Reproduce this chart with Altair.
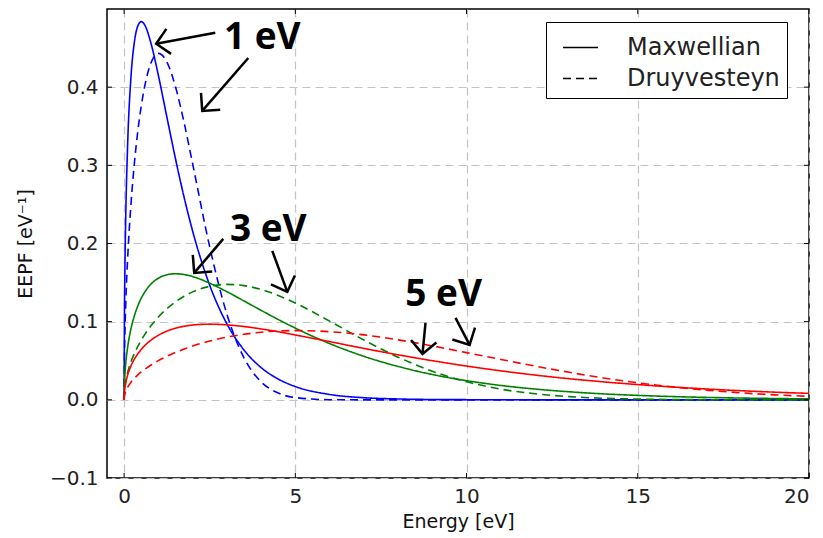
import math
import altair as alt
import pandas as pd

# ---------------- data ----------------
energy = [0, 0.01, 0.02, 0.05, 0.1, 0.2, 0.3, 0.4, 0.5, 0.6,
          0.8, 1.0, 1.25, 1.5, 1.75, 2.0, 2.5, 3.0, 3.5, 4.0,
          4.5, 5, 6, 7, 8, 9, 10, 11, 12, 13,
          14, 15, 16, 17, 18, 19, 20]

maxwell_1 = [0, .1117, .1564, .2400, .3229, .4131, .4578, .4784, .4839, .4797,
             .4535, .4151, .3615, .3084, .2594, .2160, .1465, .0973, .0638, .0413,
             .0266, .0170, .0069, .0027, .0011, .0004, .0002, .0001, 0, 0,
             0, 0, 0, 0, 0, 0, 0]
maxwell_3 = [0, .0216, .0305, .0478, .0664, .0909, .1076, .1202, .1300, .1377,
             .1488, .1556, .1600, .1613, .1603, .1577, .1492, .1384, .1265, .1145,
             .1028, .0917, .0720, .0557, .0427, .0324, .0245, .0184, .0138, .0103,
             .0076, .0057, .0042, .0031, .0023, .0017, .0012]
maxwell_5 = [0, .0101, .0142, .0223, .0313, .0434, .0521, .0589, .0646, .0693,
             .0769, .0826, .0879, .0916, .0941, .0957, .0968, .0959, .0938, .0907,
             .0871, .0830, .0745, .0658, .0576, .0501, .0432, .0371, .0317, .0270,
             .0230, .0195, .0165, .0139, .0117, .0098, .0083]
druy_1 = [0, .0565, .0799, .1263, .1782, .2503, .3028, .3438, .3760, .4010,
          .4327, .4432, .4321, .4005, .3550, .3022, .1955, .1097, .0538, .0231,
          .0087, .0029, .0002, 0, 0, 0, 0, 0, 0, 0,
          0, 0, 0, 0, 0, 0, 0]
druy_3 = [0, .0109, .0154, .0243, .0344, .0486, .0594, .0685, .0764, .0834,
          .0956, .1059, .1166, .1253, .1325, .1381, .1452, .1477, .1461, .1412,
          .1335, .1238, .1007, .0766, .0546, .0366, .0231, .0137, .0077, .0041,
          .0020, .0010, .0004, .0002, .0001, 0, 0]
druy_5 = [0, .0051, .0071, .0113, .0160, .0226, .0277, .0319, .0357, .0390,
          .0449, .0501, .0557, .0606, .0649, .0688, .0752, .0802, .0839, .0865,
          .0881, .0886, .0872, .0831, .0767, .0690, .0604, .0517, .0431, .0352,
          .0280, .0218, .0166, .0124, .0090, .0064, .0045]

te_labels = ["1 eV", "3 eV", "5 eV"]
te_colors = ["#0000ff", "#008000", "#ff0000"]
dist_labels = ["Maxwellian", "Druyvesteyn"]

x_ticks = [0, 5, 10, 15, 20]
y_ticks = [-0.1, 0.0, 0.1, 0.2, 0.3, 0.4]

# annotation texts (centre x, baseline y)
label_text = ["1 eV", "3 eV", "5 eV"]
label_x = [4.035, 4.21, 9.33]
label_y = [0.4488, 0.2033, 0.1202]

# annotation arrows (tail -> tip)
arrow_tail_x = [2.661, 3.626, 2.895, 4.327, 8.801, 9.678]
arrow_tail_y = [0.4697, 0.4373, 0.2059, 0.1905, 0.0985, 0.1049]
arrow_tip_x = [0.936, 2.281, 2.047, 4.766, 8.713, 10.088]
arrow_tip_y = [0.4556, 0.3696, 0.1624, 0.1381, 0.0588, 0.0703]

# ---------------- layout ----------------
W, H = 702, 469
XMIN, XMAX = -0.5, 20
YMIN, YMAX = -0.1, 0.5
PXX = W / (XMAX - XMIN)
PXY = H / (YMAX - YMIN)

rows = []
for te, mv, dv in zip(te_labels, [maxwell_1, maxwell_3, maxwell_5], [druy_1, druy_3, druy_5]):
    for dist, vals in zip(dist_labels, [mv, dv]):
        for e, v in zip(energy, vals):
            rows.append({"E": e, "f": v, "Te": te, "dist": dist, "series": te + dist})
curves = pd.DataFrame(rows)

arrows = pd.DataFrame({"E": arrow_tail_x, "f": arrow_tail_y,
                       "E2": arrow_tip_x, "f2": arrow_tip_y})
heads = pd.DataFrame({
    "E": arrow_tip_x, "f": arrow_tip_y,
    "ang": [(math.degrees(math.atan2((tx - sx) * PXX, (ty - sy) * PXY)) + 360) % 360
            for sx, sy, tx, ty in zip(arrow_tail_x, arrow_tail_y, arrow_tip_x, arrow_tip_y)],
})
labels = pd.DataFrame({"E": label_x, "f": label_y, "t": label_text})
xt = pd.DataFrame({"E": x_ticks})
yt = pd.DataFrame({"f": y_ticks})

xscale = alt.Scale(domain=[XMIN, XMAX], nice=False, zero=False)
yscale = alt.Scale(domain=[YMIN, YMAX], nice=False, zero=False)
xaxis = alt.Axis(values=x_ticks, title="Energy [eV]", labelPadding=8, titlePadding=6)
yaxis = alt.Axis(values=y_ticks, format=".1f", title="EEPF [eV⁻¹]",
                 labelPadding=9, titlePadding=14)


def X(field="E"):
    return alt.X(f"{field}:Q", scale=xscale, axis=xaxis)


def Y(field="f"):
    return alt.Y(f"{field}:Q", scale=yscale, axis=yaxis)


lines = alt.Chart(curves).mark_line(strokeWidth=1.6, interpolate="monotone").encode(
    x=X(), y=Y(),
    color=alt.Color("Te:N", scale=alt.Scale(domain=te_labels, range=te_colors), legend=None),
    strokeDash=alt.StrokeDash(
        "dist:N",
        scale=alt.Scale(domain=dist_labels, range=[[1, 0], [8, 5]]),
        legend=alt.Legend(
            title=None, orient="none", legendX=439, legendY=13,
            symbolType="stroke", symbolStrokeColor="black", symbolStrokeWidth=1.5,
            symbolSize=1225, symbolOffset=9,
            labelFont="DejaVu Sans", labelFontSize=24, labelColor="#222222",
            labelOffset=28, padding=7, rowPadding=0,
            strokeColor="black", fillColor="white",
        ),
    ),
    detail="series:N",
)

tick_left = alt.Chart(yt).mark_rule(color="black", strokeWidth=1).encode(
    y=Y(), x=alt.value(0), x2=alt.value(5))
tick_right = alt.Chart(yt).mark_rule(color="black", strokeWidth=1).encode(
    y=Y(), x=alt.value(W - 5), x2=alt.value(W))
tick_bottom = alt.Chart(xt).mark_rule(color="black", strokeWidth=1).encode(
    x=X(), y=alt.value(H - 5), y2=alt.value(H))
tick_top = alt.Chart(xt).mark_rule(color="black", strokeWidth=1).encode(
    x=X(), y=alt.value(0), y2=alt.value(5))

arrow_lines = alt.Chart(arrows).mark_rule(color="black", strokeWidth=2.5).encode(
    x=X(), y=Y(), x2="E2:Q", y2="f2:Q")

arrow_heads = alt.Chart(heads).mark_point(
    shape="M-0.91,0.91L0,0L0.91,0.91", filled=False, size=784,
    strokeWidth=2.5, color="black", opacity=1,
).encode(x=X(), y=Y(), angle=alt.Angle("ang:Q", scale=None))

texts = alt.Chart(labels).mark_text(
    font="Open Sans", fontWeight="bold", fontSize=37, align="center",
    baseline="alphabetic", color="black",
).encode(x=X(), y=Y(), text="t:N")

chart = alt.layer(
    lines, tick_left, tick_right, tick_bottom, tick_top, arrow_lines, arrow_heads, texts
).properties(
    width=W, height=H,
    autosize=alt.AutoSizeParams(type="none"),
    padding={"left": 107, "top": 9, "right": 14, "bottom": 60},
    background="white",
).configure_view(
    stroke="black", strokeWidth=1.5,
).configure_axis(
    grid=True, gridColor="#c4c4c4", gridDash=[8, 5], gridWidth=1.2,
    domain=False, ticks=False, tickSize=0,
    labelFont="DejaVu Sans", labelFontSize=20, labelColor="#222222",
    titleFont="DejaVu Sans", titleFontSize=19, titleFontWeight="normal", titleColor="#111111",
)

chart.save("out.html", embed_options={"renderer": "svg", "actions": False})
